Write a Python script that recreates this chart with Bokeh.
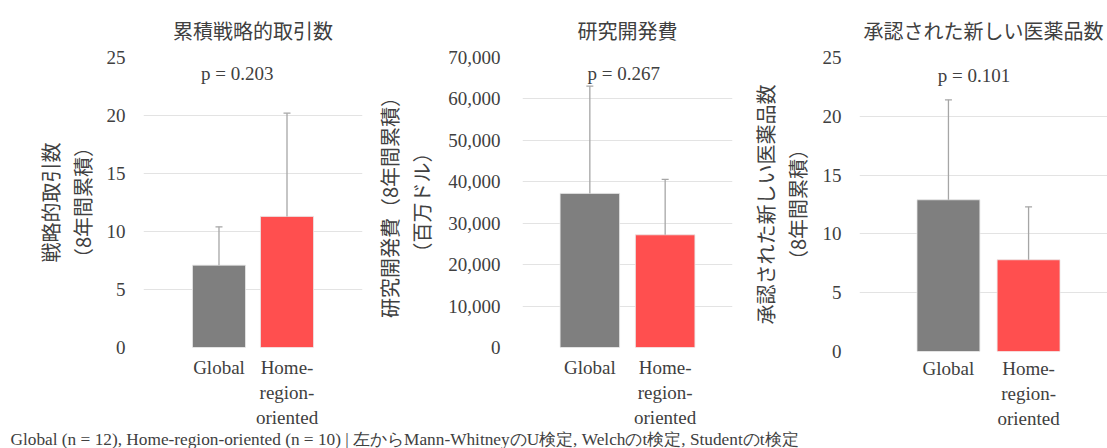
from bokeh.plotting import figure
from bokeh.models import (Range1d, FixedTicker, Whisker, ColumnDataSource,
                          Label, NumeralTickFormatter, TeeHead)
from bokeh.layouts import row, column
from bokeh.embed import file_html
from bokeh.resources import INLINE
from bokeh.core.properties import value

# ---- data -------------------------------------------------------------
groups = ["Global", "Home-region-oriented"]
group_tick_labels = ["Global", "Home-\nregion-\noriented"]
bar_colors = ["#7f7f7f", "#ff4f4f"]

deals_mean = [7.1, 11.3]
deals_sd = [3.3, 8.9]
rnd_mean = [37200, 27200]
rnd_sd = [25900, 13400]
drugs_mean = [12.9, 7.8]
drugs_sd = [8.5, 4.5]

p_values = [0.203, 0.267, 0.101]
panel_titles = ["累積戦略的取引数", "研究開発費", "承認された新しい医薬品数"]
y_labels = ["戦略的取引数\n（8年間累積）",
            "研究開発費（8年間累積）\n（百万ドル）",
            "承認された新しい医薬品数\n（8年間累積）"]
y_max = [25, 70000, 25]
y_step = [5, 10000, 5]
footnote = ("Global (n = 12), Home-region-oriented (n = 10) | "
            "左からMann-WhitneyのU検定, Welchのt検定, Studentのt検定")

SERIF = "Liberation Serif, serif"
CJK = "Noto Sans CJK JP"
TEXT = "#404040"
GRID = "#e3e3e3"
ERR = "#a6a6a6"
ROW_H = 431


def panel(i, means, sds, width, left, right, bottom, x_lo, x_hi, bar_w,
          p_x, p_y, title_off, tick_standoff, label_standoff, x_standoff, fmt=None):
    xs = [k + 0.5 for k in range(len(groups))]
    p = figure(width=width, height=ROW_H, x_range=Range1d(x_lo, x_hi),
               y_range=Range1d(0, y_max[i]), toolbar_location=None,
               output_backend="svg", min_border_left=left, min_border_right=right,
               min_border_top=57, min_border_bottom=bottom)
    p.outline_line_color = None
    p.background_fill_color = "white"
    p.border_fill_color = "white"

    src = ColumnDataSource(dict(
        x=xs, top=means, color=bar_colors,
        upper=[m + s for m, s in zip(means, sds)], lower=means))
    p.vbar(x="x", top="top", width=bar_w, fill_color="color",
           line_color="#e8e8e8", line_width=0.8, source=src)
    p.add_layout(Whisker(base="x", upper="upper", lower="lower", source=src,
                         line_color=ERR, line_width=1.3, level="overlay",
                         upper_head=TeeHead(size=7, line_color=ERR, line_width=1.3),
                         lower_head=None))

    # title
    p.title.text = panel_titles[i]
    p.title.align = "center"
    p.title.offset = title_off
    p.title.standoff = 25
    p.title.text_font = CJK
    p.title.text_font_size = "20px"
    p.title.text_font_style = "normal"
    p.title.text_color = TEXT

    # y axis with a two-line label
    ya = p.yaxis[0]
    ya.ticker = FixedTicker(ticks=list(range(0, y_max[i] + 1, y_step[i])))
    if fmt:
        ya.formatter = NumeralTickFormatter(format=fmt)
    ya.axis_label = y_labels[i]
    ya.axis_line_color = None
    ya.major_tick_line_color = None
    ya.minor_tick_line_color = None
    ya.major_tick_out = 0
    ya.major_tick_in = 0
    ya.major_label_text_font = SERIF
    ya.major_label_text_font_size = "19px"
    ya.major_label_text_color = TEXT
    ya.major_label_standoff = tick_standoff
    ya.axis_label_text_font = CJK
    ya.axis_label_text_font_size = "20px"
    ya.axis_label_text_font_style = "normal"
    ya.axis_label_text_color = TEXT
    ya.axis_label_text_line_height = 1.1
    ya.axis_label_standoff = label_standoff

    # x axis with the group names
    xa = p.xaxis[0]
    xa.ticker = FixedTicker(ticks=xs)
    xa.major_label_overrides = {x: lab for x, lab in zip(xs, group_tick_labels)}
    xa.axis_line_color = None
    xa.major_tick_line_color = None
    xa.minor_tick_line_color = None
    xa.major_tick_out = 0
    xa.major_tick_in = 0
    xa.major_label_text_font = SERIF
    xa.major_label_text_font_size = "19px"
    xa.major_label_text_color = TEXT
    xa.major_label_standoff = x_standoff

    p.xgrid.grid_line_color = None
    p.ygrid.grid_line_color = GRID
    p.ygrid.grid_line_width = 1

    p.add_layout(Label(x=p_x, y=p_y, text=f"p = {p_values[i]:.3f}",
                       text_align="center", text_baseline="middle",
                       text_font=SERIF, text_font_size="19px", text_color=TEXT))
    return p


p1 = panel(0, deals_mean, deals_sd, 370, 143, 8, ROW_H - 347, -0.61, 2.61, 0.78,
           0.77, 23.6, -12, 18, 7, 9)
p2 = panel(1, rnd_mean, rnd_sd, 367, 152, 5, ROW_H - 347, -0.394, 2.394, 0.79,
           0.95, 66200, -4, 22, 9, 9, fmt="0,0")
p3 = panel(2, drugs_mean, drugs_sd, 370, 122, 0, ROW_H - 352, -0.61, 2.485, 0.785,
           0.82, 23.45, -3, 18, 8, 6)

# footnote strip under the panels
FOOT_H = 448 - ROW_H
foot = figure(width=1107, height=FOOT_H, x_range=Range1d(0, 1107),
              y_range=Range1d(0, FOOT_H), toolbar_location=None, output_backend="svg",
              title=None, min_border=0, x_axis_location=None, y_axis_location=None)
foot.outline_line_color = None
foot.xgrid.grid_line_color = None
foot.ygrid.grid_line_color = None
foot.text(x=[10], y=[9], text=[footnote], text_font=value(SERIF),
          text_font_size="17.3px", text_baseline="alphabetic", text_color=TEXT)

layout = column(row(p1, p2, column(p3, spacing=0), spacing=0), foot, spacing=0)

with open("out.html", "w") as f:
    f.write(file_html(layout, INLINE))
